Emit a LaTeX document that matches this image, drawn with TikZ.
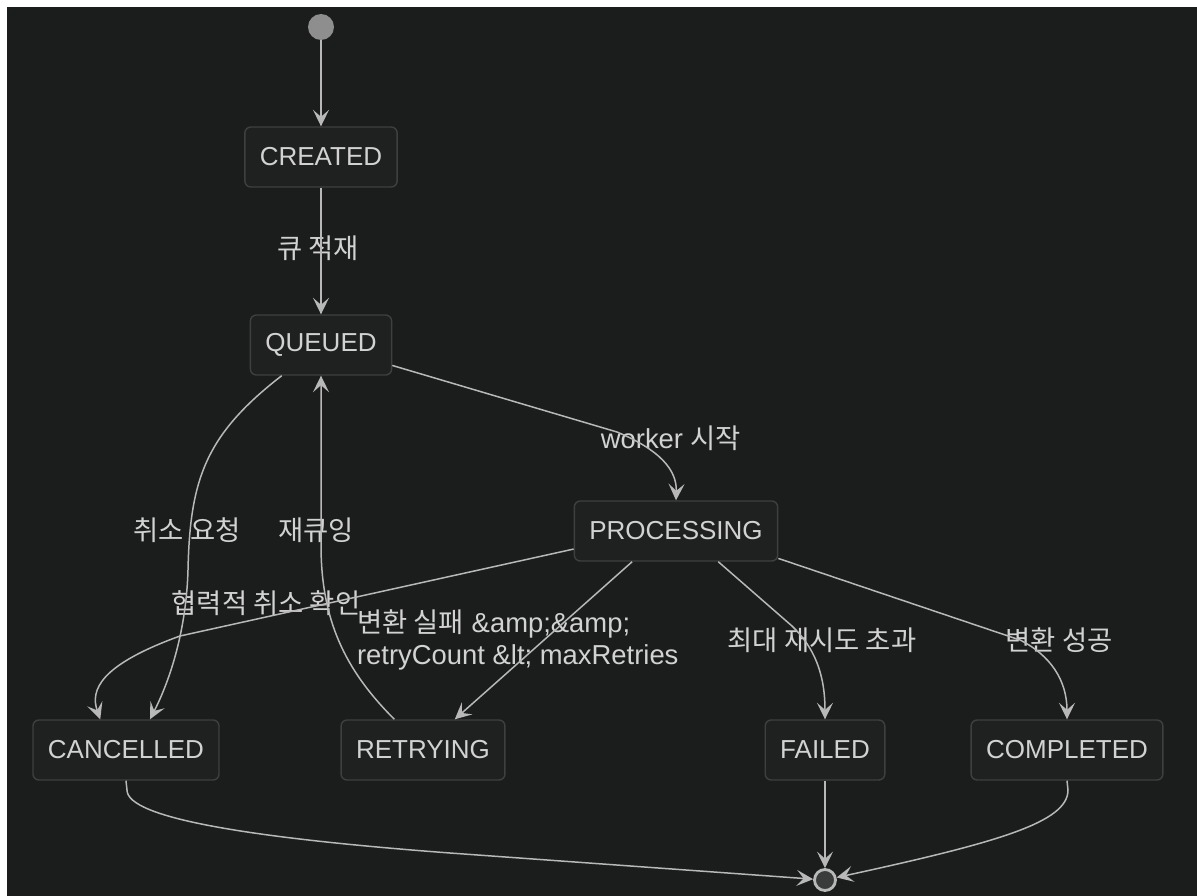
\documentclass[tikz,border=0pt]{standalone}
\usepackage{fontspec}
\setmainfont{Liberation Sans}
\newfontfamily\kr{Noto Sans CJK KR}
\usepackage{xcolor}
\definecolor{Bg}{HTML}{1B1C1C}
\definecolor{BoxFill}{HTML}{1F2020}
\definecolor{BoxLine}{HTML}{3E3F3F}
\definecolor{Ink}{HTML}{D2D2D2}
\definecolor{Wire}{HTML}{B8B8B8}
\definecolor{Dot}{HTML}{8E8E8E}
\definecolor{Core}{HTML}{3A3B3B}
\usetikzlibrary{arrows.meta}
\tikzset{
  state/.style={draw=BoxLine,fill=BoxFill,line width=0.8pt,rounded corners=0.12cm,
    text=Ink,font=\fontsize{14.8}{18}\selectfont,inner xsep=0.3cm,minimum height=1.2cm},
  lbl/.style={text=Ink,font=\fontsize{15.6}{18}\selectfont,inner sep=1pt},
  flow/.style={draw=Wire,line width=0.85pt,-{Stealth[length=0.33cm,width=0.32cm,inset=0.14cm]}},
  initdot/.style={circle,fill=Dot,inner sep=0pt,minimum size=0.52cm},
  finaldot/.style={circle,draw=Wire,line width=1.6pt,fill=Core,inner sep=0pt,minimum size=0.42cm}
}

\begin{document}
\begin{tikzpicture}[x=0.02cm,y=-0.02cm]
\fill[white] (0,0) rectangle (1197,896);
\fill[Bg] (7,7) rectangle (1197,896);
% states
\node[initdot] (init) at (321,27) {};
\node[state] (created) at (321,157) {CREATED};
\node[state] (queued) at (321,345) {QUEUED};
\node[state] (processing) at (676,531) {PROCESSING};
\node[state] (cancelled) at (126,750) {CANCELLED};
\node[state] (retrying) at (423,750) {RETRYING};
\node[state] (failed) at (825,750) {FAILED};
\node[state] (completed) at (1067,750) {COMPLETED};
\node[finaldot] (final) at (825,880) {};
% transition labels
\node[lbl] (l1) at (318,248) {\kr 큐 적재};
\node[lbl] (l2) at (671,438) {worker {\kr 시작}};
\node[lbl] (l3) at (187,530) {\kr 취소 요청};
\node[lbl] (l4) at (316,530) {\kr 재큐잉};
\node[lbl] (l5) at (266,603) {\kr 협력적 취소 확인};
\node[lbl,align=left,anchor=west] (l6) at (355,640) {{\kr 변환 실패} \&amp;\&amp;\\retryCount \&lt; maxRetries};
\node[lbl] (l7) at (822,640) {\kr 최대 재시도 초과};
\node[lbl] (l8) at (1059,640) {\kr 변환 성공};
% transitions
\draw[flow] (init) -- (created);
\draw[flow] (created) -- (queued);
\draw[flow] (queued.-16) -- (617,432) .. controls (660,450) and (677,470) .. (processing.north);
\draw[flow] (queued.-142) .. controls (205,435) and (190,480) .. (188,570) .. controls (186,640) and (165,690) .. (cancelled.52);
\draw[flow] (retrying.133) .. controls (345,670) and (321,620) .. (queued.south |- 0,545) -- (queued.south);
\draw[flow] (processing.-170) -- (180,636) .. controls (100,665) and (90,690) .. (cancelled.130);
\draw[flow] (processing.-145) -- (retrying.44);
\draw[flow] (processing.-36) -- (792,626) .. controls (815,648) and (825,675) .. (failed.north);
\draw[flow] (processing.-15) -- (1020,640) .. controls (1050,655) and (1067,680) .. (completed.north);
\draw[flow] (cancelled.south) -- (127,790) .. controls (127,818) and (250,838) .. (450,853) -- (final);
\draw[flow] (failed) -- (final);
\draw[flow] (completed.south) -- (1068,790) .. controls (1068,822) and (1000,842) .. (final);
\end{tikzpicture}
\end{document}
